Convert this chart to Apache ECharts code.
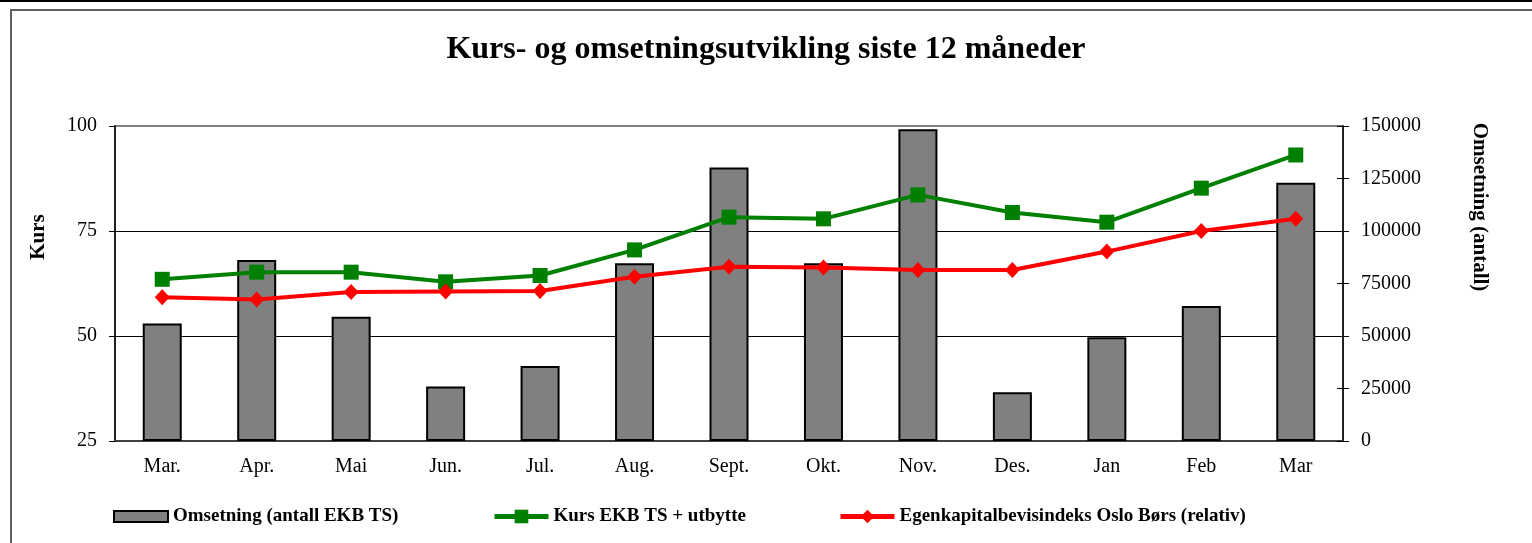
<!DOCTYPE html>
<html>
<head>
<meta charset="utf-8">
<script src="https://cdn.jsdelivr.net/npm/echarts@6/dist/echarts.min.js"></script>
<style>
  html, body { margin: 0; padding: 0; background: #fff; }
  #chart { width: 1532px; height: 543px; }
</style>
</head>
<body>
<div id="chart"></div>
<script>
const months = ['Mar.', 'Apr.', 'Mai', 'Jun.', 'Jul.', 'Aug.', 'Sept.', 'Okt.', 'Nov.', 'Des.', 'Jan', 'Feb', 'Mar']
const omsetning = [56000, 86200, 59200, 25900, 35700, 84600, 130200, 84600, 148400, 23200, 49400, 64300, 123000]
const kurs = [63.5, 65.2, 65.2, 62.9, 64.4, 70.5, 78.3, 77.9, 83.6, 79.4, 77.1, 85.2, 93.1]
const indeks = [59.2, 58.7, 60.5, 60.6, 60.7, 64.1, 66.5, 66.3, 65.7, 65.7, 70.1, 75.0, 77.9]

const serif = '"Liberation Serif", "DejaVu Serif", serif'
const names = ['Omsetning (antall EKB TS)', 'Kurs EKB TS + utbytte', 'Egenkapitalbevisindeks Oslo Børs (relativ)']

const chart = echarts.init(document.getElementById('chart'))

const legendBase = {
  top: 502,
  itemWidth: 54,
  itemHeight: 17,
  lineStyle: { width: 5 },
  textStyle: { fontFamily: serif, fontSize: 19, fontWeight: 'bold', color: '#000' }
}

chart.setOption({
  animation: false,
  backgroundColor: '#fff',
  title: {
    text: 'Kurs- og omsetningsutvikling siste 12 måneder',
    left: 'center',
    top: 29,
    textStyle: { fontFamily: serif, fontSize: 32, fontWeight: 'bold', color: '#000' }
  },
  legend: [
    { ...legendBase, left: 108, data: [{ name: names[0], icon: 'rect' }], itemHeight: 11, top: 502 },
    { ...legendBase, left: 487, data: [names[1]] },
    { ...legendBase, left: 833, data: [names[2]] }
  ],
  grid: {
    left: 115, right: 189, top: 126, bottom: 102,
    show: true, borderColor: '#808080', borderWidth: 2
  },
  xAxis: [
    {
      type: 'category',
      data: months,
      axisLine: { lineStyle: { color: '#404040', width: 2 } },
      axisTick: { interval: 0, length: 6, lineStyle: { color: '#000' } },
      axisLabel: { interval: 0, margin: 16, color: '#000', fontFamily: serif, fontSize: 20 }
    },
    {
      type: 'category',
      data: months,
      position: 'bottom',
      axisLine: { show: false },
      axisTick: { interval: 0, inside: true, length: 6, lineStyle: { color: '#000' } },
      axisLabel: { show: false }
    }
  ],
  yAxis: [
    {
      type: 'value',
      min: 25, max: 100, interval: 25,
      axisLine: { show: true, lineStyle: { color: '#000', width: 1.5 } },
      axisTick: { show: true, length: 6, lineStyle: { color: '#000' } },
      axisLabel: { margin: 18, color: '#000', fontFamily: serif, fontSize: 20 },
      splitLine: { lineStyle: { color: ['#000', '#000', '#000', '#808080'], width: 1 } }
    },
    {
      type: 'value',
      position: 'right',
      min: 0, max: 150000, interval: 25000,
      axisLine: { show: true, lineStyle: { color: '#000', width: 1.5 } },
      axisTick: { show: true, length: 6, lineStyle: { color: '#000' } },
      axisLabel: { margin: 18, color: '#000', fontFamily: serif, fontSize: 20, formatter: v => String(v) },
      splitLine: { show: false }
    },
    {
      type: 'value',
      position: 'right',
      min: 0, max: 150000, interval: 25000,
      axisLine: { show: false },
      axisTick: { show: true, inside: true, length: 6, lineStyle: { color: '#000' } },
      axisLabel: { show: false },
      splitLine: { show: false }
    }
  ],
  series: [
    {
      name: names[0],
      type: 'bar',
      yAxisIndex: 1,
      barWidth: 39,
      data: omsetning,
      itemStyle: { color: '#808080', borderColor: '#000', borderWidth: 2 }
    },
    {
      name: names[1],
      type: 'line',
      yAxisIndex: 0,
      data: kurs,
      symbol: 'rect',
      symbolSize: 15,
      lineStyle: { color: '#008000', width: 4 },
      itemStyle: { color: '#008000' }
    },
    {
      name: names[2],
      type: 'line',
      yAxisIndex: 0,
      data: indeks,
      symbol: 'diamond',
      symbolSize: [15, 16],
      lineStyle: { color: '#ff0000', width: 4 },
      itemStyle: { color: '#ff0000' }
    }
  ],
  graphic: [
    { type: 'line', shape: { x1: 0, y1: 1, x2: 1532, y2: 1 }, style: { stroke: '#000', lineWidth: 2 } },
    { type: 'rect', shape: { x: 11, y: 10, width: 1600, height: 600 }, style: { fill: null, stroke: '#606060', lineWidth: 2 } },
    {
      type: 'text', x: 39, y: 237, rotation: Math.PI / 2,
      style: { text: 'Kurs', fill: '#000', font: 'bold 21px ' + serif, textAlign: 'center', textVerticalAlign: 'middle' }
    },
    {
      type: 'text', x: 1479, y: 207, rotation: -Math.PI / 2,
      style: { text: 'Omsetning (antall)', fill: '#000', font: 'bold 21px ' + serif, textAlign: 'center', textVerticalAlign: 'middle' }
    }
  ]
})

window.addEventListener('resize', () => chart.resize())
</script>
</body>
</html>
